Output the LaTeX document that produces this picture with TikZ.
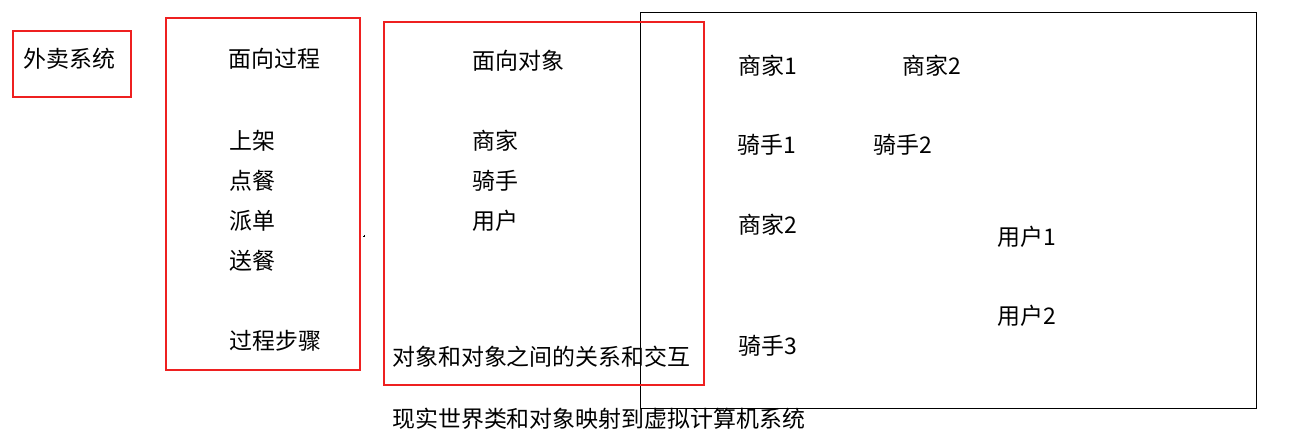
\documentclass[tikz,border=0pt]{standalone}
\usepackage{fontspec}
\usepackage{tikz}
\newfontfamily\cjk{Noto Sans CJK SC}
\definecolor{boxred}{RGB}{238,32,32}

\begin{document}
\begin{tikzpicture}[x=0.75pt,y=-0.75pt]
% Styles
\tikzset{
    lbl/.style={anchor=west, inner sep=0pt, font=\cjk\fontsize{17.2}{20}\selectfont},
    redbox/.style={draw=boxred, line width=1.5pt},
    blackbox/.style={draw=black, line width=0.75pt}
}
\useasboundingbox (0,0) rectangle (1313,445);
% Boxes
\draw[redbox] (13,31) rectangle (131,97);
\draw[redbox] (166,18) rectangle (360,370);
\draw[blackbox] (640,13) rectangle (1256,408);
\draw[redbox] (384,22) rectangle (704,385);
\draw[line width=0.4pt] (363,236) -- (365,236) (364,235) -- (364,237);
% System
\node[lbl] (sys) at (23,59) {外卖系统};
% Process oriented
\node[lbl] (proc) at (228,59) {面向过程};
\node[lbl] (shelf) at (229,141) {上架};
\node[lbl] (order) at (229,181) {点餐};
\node[lbl] (dispatch) at (229,221) {派单};
\node[lbl] (deliver) at (229,261) {送餐};
\node[lbl] (steps) at (229,341) {过程步骤};
% Object oriented
\node[lbl] (obj) at (472,61) {面向对象};
\node[lbl] (shop) at (472,141) {商家};
\node[lbl] (rider) at (472,181) {骑手};
\node[lbl] (user) at (472,221) {用户};
\node[lbl] (rel) at (392,357) {对象和对象之间的关系和交互};
\node[lbl] (map) at (392,419) {现实世界类和对象映射到虚拟计算机系统};
% Instances
\node[lbl] (shopA) at (738,66) {商家1};
\node[lbl] (shopB) at (902,66) {商家2};
\node[lbl] (riderA) at (737,145) {骑手1};
\node[lbl] (riderB) at (873,145) {骑手2};
\node[lbl] (shopC) at (738,225) {商家2};
\node[lbl] (userA) at (997,237) {用户1};
\node[lbl] (userB) at (997,316) {用户2};
\node[lbl] (riderC) at (738,346) {骑手3};
\end{tikzpicture}
\end{document}
